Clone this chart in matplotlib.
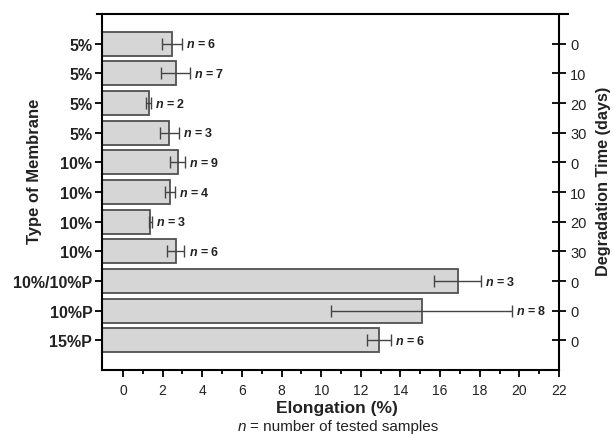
import matplotlib
matplotlib.use('Agg')
import matplotlib.pyplot as plt

plt.rcParams['font.family'] = ['Liberation Sans', 'DejaVu Sans']
plt.rcParams['mathtext.fontset'] = 'custom'
plt.rcParams['mathtext.it'] = 'Liberation Sans:italic:bold'
plt.rcParams['mathtext.rm'] = 'Liberation Sans'
plt.rcParams['mathtext.bf'] = 'Liberation Sans:bold'

# data (top row first)
membranes = ['5%', '5%', '5%', '5%', '10%', '10%', '10%', '10%',
             '10%/10%P', '10%P', '15%P']
days = ['0', '10', '20', '30', '0', '10', '20', '30', '0', '0', '0']
elongation = [2.48, 2.65, 1.30, 2.34, 2.76, 2.38, 1.37, 2.65, 16.88, 15.06, 12.90]
elong_err = [0.50, 0.72, 0.12, 0.48, 0.38, 0.24, 0.08, 0.45, 1.19, 4.57, 0.60]
n_samples = [6, 7, 2, 3, 9, 4, 3, 6, 3, 8, 6]

xmin, xmax = -1.06, 22

fig = plt.figure(figsize=(6.13, 4.35), dpi=100)
ax = fig.add_axes([0.1664, 0.1471, 0.7456, 0.8184])

pos = list(range(len(membranes)))
# bars start at the left spine, not at zero
ax.barh(pos, [v - xmin for v in elongation], left=xmin, height=0.8,
        color='#d6d6d6', edgecolor='#505050', linewidth=1.3, zorder=2)
ax.errorbar(elongation, pos, xerr=elong_err, fmt='none', ecolor='#444444',
            elinewidth=1.0, capsize=4, capthick=1.0, zorder=3)

for p, v, e, n in zip(pos, elongation, elong_err, n_samples):
    ax.annotate(r'$\it{n}$ = %d' % n, (v + e, p), xytext=(3, 0),
                textcoords='offset points', va='center', ha='left',
                fontsize=9, fontweight='bold', color='#222222')

ax.set_xlim(xmin, xmax)
ax.set_ylim(11, -1)
ax.set_xticks(range(0, 23, 2))
ax.set_xticks(range(1, 23, 2), minor=True)
ax.set_yticks(pos)
ax.set_yticklabels(membranes, fontsize=11.5, fontweight='bold', color='#222222')
ax.tick_params(axis='x', which='major', direction='out', length=5, width=1.3,
               labelsize=10, pad=4, labelcolor='#222222')
ax.tick_params(axis='x', which='minor', direction='out', length=3, width=1.3)
ax.tick_params(axis='y', direction='inout', length=10, width=1.3, pad=2)

for s in ['left', 'right', 'top', 'bottom']:
    ax.spines[s].set_linewidth(1.5)
ax.spines['top'].set_bounds(-1.31, 22.46)

ax2 = ax.twinx()
ax2.set_ylim(ax.get_ylim())
ax2.set_yticks(pos)
ax2.set_yticklabels(days, fontsize=10.5, color='#222222')
ax2.tick_params(axis='y', direction='inout', length=10, width=1.3, pad=3)
for s in ['left', 'right', 'top', 'bottom']:
    ax2.spines[s].set_visible(False)

# axis titles placed as in the reference
fig.text(0.550, 0.062, 'Elongation (%)', ha='center', va='center',
         fontsize=12.5, fontweight='bold', color='#222222')
note = fig.text(0.562, 0.018, '= number of tested samples', ha='center',
                va='center', fontsize=11, color='#222222')
ax2.annotate('n', xy=(0, 0.5), xycoords=note, xytext=(-3, 0),
             textcoords='offset points', ha='right', va='center',
             fontsize=11, style='italic', color='#222222',
             annotation_clip=False)
fig.text(0.057, 0.607, 'Type of Membrane', ha='center', va='center',
         rotation=90, fontsize=12, fontweight='bold', color='#222222')
fig.text(0.984, 0.584, 'Degradation Time (days)', ha='center', va='center',
         rotation=90, fontsize=11.7, fontweight='bold', color='#222222')

fig.savefig('out.png', dpi=100)
